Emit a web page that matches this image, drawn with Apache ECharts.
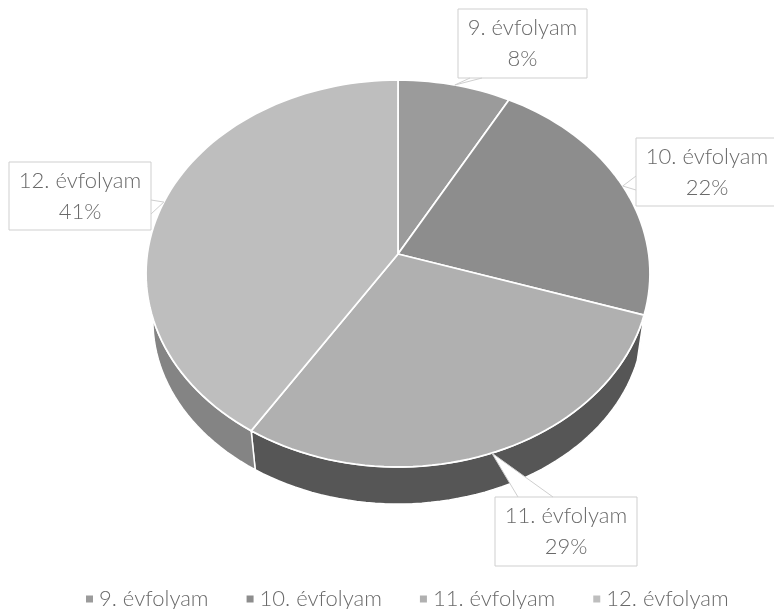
<!DOCTYPE html>
<html>
<head>
<meta charset="utf-8">
<style>html,body{margin:0;padding:0;background:#fff;overflow:hidden}#c{width:774px;height:609px;filter:blur(0.4px)}</style>
<script src="https://cdn.jsdelivr.net/npm/echarts@6/dist/echarts.min.js"></script>
</head>
<body>
<div id="c"></div>
<script>
// Data
const categories = ['9. évfolyam', '10. évfolyam', '11. évfolyam', '12. évfolyam'];
const shares = [8, 22, 29, 41];

// Styles and layout, kept apart from the data
const topColors = ['#9b9b9b', '#8d8d8d', '#b0b0b0', '#bebebe'];
const wallColors = ['#6e6e6e', '#555555', '#565656', '#848484'];
const labelBoxes = [
  [458, 9, 129, 69], [636, 138, 142, 68], [495, 497, 142, 69], [9, 162, 142, 68]
];
const leaderBases = [
  [[470, 78], [482, 78]], [[636, 176], [636, 190]], [[518, 497], [553, 497]], [[151, 200], [151, 214]]
];
const textColor = '#6a6a6a';
const fontFamily = 'Lato, "Open Sans", sans-serif';
const upper = { cx: 398, cy: 254, A: 250.7, B: 191.5 };
const lower = { cx: 398, cy: 302.6, A: 243.8, B: 181.1 };
const tilt = 0.1008;

const total = shares.reduce((a, b) => a + b, 0);
function project(plane, fraction) {
  const t = fraction * Math.PI * 2;
  const u = Math.sin(t), v = -Math.cos(t), d = 1 - tilt * v;
  return [plane.cx + plane.A * u / d, plane.cy + plane.B * v / d];
}
function arc(plane, from, to) {
  const n = Math.max(2, Math.ceil((to - from) * 180));
  const pts = [];
  for (let i = 0; i <= n; i++) pts.push(project(plane, from + (to - from) * i / n));
  return pts;
}
function makeRender(index) {
  return function (params, api) {
    let before = 0;
    for (let i = 0; i < index; i++) before += shares[i];
    const from = before / total;
    const to = from + api.value(0) / total;
    const edge = arc(upper, from, to);
    const wall = edge.concat(arc(lower, from, to).reverse());
    const box = labelBoxes[index];
    const tip = project(upper, (from + to) / 2);
    const base = leaderBases[index];
    const lineColor = '#cfcfcf';
    return {
      type: 'group',
      children: [
        { type: 'polygon', z2: 1, shape: { points: wall },
          style: { fill: wallColors[index], stroke: '#ffffff', lineWidth: 1.5 } },
        { type: 'polygon', z2: 2, shape: { points: [[upper.cx, upper.cy]].concat(edge) },
          style: { fill: topColors[index], stroke: '#ffffff', lineWidth: 1.8 } },
        { type: 'polygon', z2: 3, shape: { points: [base[0], tip, base[1]] },
          style: { fill: '#ffffff', stroke: null } },
        { type: 'polyline', z2: 4, shape: { points: [base[0], tip, base[1]] },
          style: { fill: null, stroke: lineColor, lineWidth: 1 } },
        { type: 'rect', z2: 3, shape: { x: box[0], y: box[1], width: box[2], height: box[3] },
          style: { fill: '#ffffff', stroke: lineColor, lineWidth: 1 } },
        { type: 'text', z2: 5, x: box[0] + box[2] / 2, y: box[1] + box[3] / 2,
          style: { text: categories[index] + '\n' + api.value(0) + '%', fill: textColor,
            font: '300 22px ' + fontFamily, align: 'center', verticalAlign: 'middle', lineHeight: 31 } }
      ]
    };
  };
}
const chart = echarts.init(document.getElementById('c'), null, { renderer: 'canvas' });
chart.setOption({
  animation: false,
  backgroundColor: '#ffffff',
  legend: {
    data: categories, left: 81, top: 583, icon: 'rect', itemWidth: 7, itemHeight: 7, itemGap: 38,
    textStyle: { color: textColor, fontSize: 22, fontWeight: 300, fontFamily: fontFamily, padding: [0, 0, 0, 1] }
  },
  series: categories.map((name, i) => ({
    type: 'custom', name: name, coordinateSystem: 'none', silent: true,
    itemStyle: { color: topColors[i] }, data: [[shares[i]]], renderItem: makeRender(i)
  }))
});
</script>
</body>
</html>
